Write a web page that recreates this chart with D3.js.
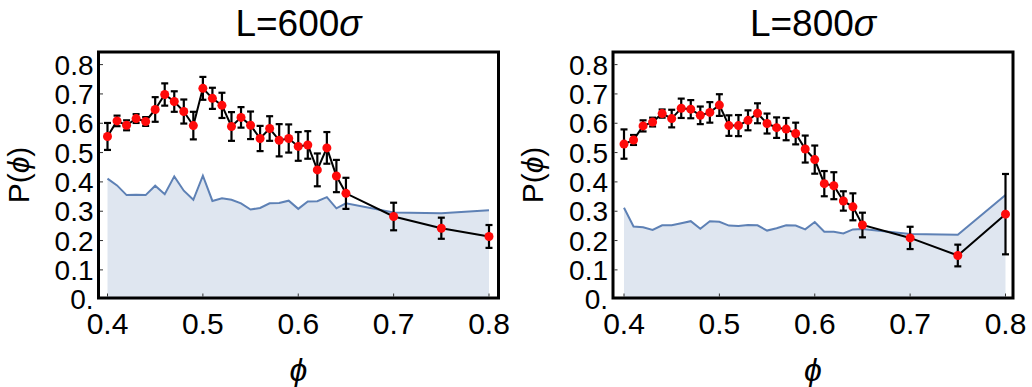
<!DOCTYPE html>
<html>
<head>
<meta charset="utf-8">
<script src="https://cdn.jsdelivr.net/npm/d3@7"></script>
<style>
  body { margin: 0; background: #fff; }
  text { font-family: "Liberation Sans", Arial, sans-serif; fill: #000; }
</style>
</head>
<body>
<svg width="1032" height="387"></svg>
<script>

// packing fraction values (shared by both panels)
var phi = [0.40,0.41,0.42,0.43,0.44,0.45,0.46,0.47,0.48,0.49,0.50,0.51,0.52,0.53,0.54,0.55,0.56,0.57,0.58,0.59,0.60,0.61,0.62,0.63,0.64,0.65,0.70,0.75,0.80];

var p600 = [0.555,0.608,0.593,0.616,0.606,0.647,0.698,0.674,0.640,0.592,0.719,0.685,0.661,0.589,0.620,0.593,0.548,0.582,0.542,0.548,0.521,0.526,0.441,0.516,0.420,0.361,0.282,0.242,0.214];
var err600 = [0.046,0.018,0.017,0.015,0.015,0.042,0.038,0.035,0.041,0.047,0.039,0.036,0.043,0.049,0.035,0.047,0.043,0.042,0.055,0.048,0.049,0.047,0.056,0.054,0.055,0.053,0.047,0.036,0.039];
var bg600 = [0.411,0.388,0.355,0.356,0.355,0.387,0.358,0.419,0.370,0.339,0.421,0.335,0.344,0.339,0.327,0.306,0.311,0.327,0.328,0.336,0.308,0.333,0.334,0.348,0.310,0.327,0.296,0.293,0.303];

var p800 = [0.529,0.543,0.591,0.604,0.633,0.616,0.651,0.648,0.627,0.637,0.662,0.592,0.592,0.610,0.634,0.599,0.585,0.580,0.565,0.512,0.476,0.394,0.387,0.335,0.315,0.253,0.209,0.149,0.290];
var err800 = [0.050,0.017,0.019,0.015,0.014,0.030,0.033,0.031,0.030,0.035,0.037,0.035,0.036,0.034,0.034,0.034,0.035,0.038,0.037,0.046,0.048,0.043,0.046,0.033,0.046,0.042,0.038,0.037,0.137];
var bg800 = [0.312,0.248,0.245,0.236,0.252,0.252,0.259,0.266,0.240,0.266,0.264,0.251,0.250,0.253,0.252,0.234,0.242,0.252,0.251,0.238,0.263,0.230,0.230,0.224,0.238,0.239,0.222,0.220,0.355];

var xTicks = [0.4,0.5,0.6,0.7,0.8];
var xTickLabels = ['0.4','0.5','0.6','0.7','0.8'];
var yTicks = [0,0.1,0.2,0.3,0.4,0.5,0.6,0.7,0.8];
var yTickLabels = ['0.','0.1','0.2','0.3','0.4','0.5','0.6','0.7','0.8'];

var titles = ['600', '800'];

var svg = d3.select('svg');
var blue = 'rgb(94,129,181)';

render = (title, vals, errs, bg, frameX, x04) => {
	var xscale = d3.scaleLinear().domain([0.4,0.8]).range([x04, x04+381.5]);
	var yscale = d3.scaleLinear().domain([0,0.8]).range([299.2, 64.6]);
	var frameY = 52, frameW = 400, frameH = 246;

	var data = phi.map((d,i) => ({x:d, p:vals[i], e:errs[i], b:bg[i]}));
	var g = svg.append('g');

	// shaded background
	g.append('path').datum(data)
		.attr('d', d3.area().x(d => xscale(d.x)).y0(yscale(0)).y1(d => yscale(d.b)))
		.attr('fill', blue).attr('fill-opacity', 0.2);
	g.append('path').datum(data)
		.attr('d', d3.line().x(d => xscale(d.x)).y(d => yscale(d.b)))
		.attr('fill', 'none').attr('stroke', blue).attr('stroke-width', 2);

	// black connecting line
	g.append('path').datum(data)
		.attr('d', d3.line().x(d => xscale(d.x)).y(d => yscale(d.p)))
		.attr('fill', 'none').attr('stroke', '#000').attr('stroke-width', 2);

	// error bars
	var eb = g.append('g').attr('stroke', '#000').attr('stroke-width', 2.2);
	eb.selectAll('.v').data(data).enter().append('line')
		.attr('x1', d => xscale(d.x)).attr('x2', d => xscale(d.x))
		.attr('y1', d => yscale(d.p - d.e)).attr('y2', d => yscale(d.p + d.e));
	eb.selectAll('.t').data(data).enter().append('line')
		.attr('x1', d => xscale(d.x)-3.5).attr('x2', d => xscale(d.x)+3.5)
		.attr('y1', d => yscale(d.p + d.e)).attr('y2', d => yscale(d.p + d.e));
	eb.selectAll('.b').data(data).enter().append('line')
		.attr('x1', d => xscale(d.x)-3.5).attr('x2', d => xscale(d.x)+3.5)
		.attr('y1', d => yscale(d.p - d.e)).attr('y2', d => yscale(d.p - d.e));

	g.selectAll('circle').data(data).enter().append('circle')
		.attr('cx', d => xscale(d.x)).attr('cy', d => yscale(d.p))
		.attr('r', 4.5).attr('fill', 'rgb(255,10,10)');

	// small inner ticks
	g.selectAll('.xt').data(xTicks).enter().append('line')
		.attr('x1', d => xscale(d)).attr('x2', d => xscale(d))
		.attr('y1', frameY+frameH-1.5).attr('y2', frameY+frameH-4.5)
		.attr('stroke', '#333').attr('stroke-width', 1);
	g.selectAll('.yt').data(yTicks.slice(1)).enter().append('line')
		.attr('x1', frameX+1.5).attr('x2', frameX+4.5)
		.attr('y1', d => yscale(d)).attr('y2', d => yscale(d))
		.attr('stroke', '#333').attr('stroke-width', 1);

	// frame
	g.append('rect')
		.attr('x', frameX).attr('y', frameY)
		.attr('width', frameW).attr('height', frameH)
		.attr('fill', 'none').attr('stroke', '#000').attr('stroke-width', 3);

	// tick labels
	g.selectAll('.xl').data(xTicks).enter().append('text')
		.attr('x', d => xscale(d)).attr('y', 334)
		.attr('text-anchor', 'middle').style('font-size', '30px')
		.text((d,i) => xTickLabels[i]);
	g.selectAll('.yl').data(yTicks).enter().append('text')
		.attr('x', frameX-5).attr('y', d => yscale(d) + 10)
		.attr('text-anchor', 'end').style('font-size', '28px')
		.text((d,i) => yTickLabels[i]);

	// title
	var t = g.append('text')
		.attr('x', frameX + frameW/2).attr('y', 36)
		.attr('text-anchor', 'middle').style('font-size', '37px');
	t.append('tspan').text('L=' + title);
	t.append('tspan').style('font-style', 'italic').text('σ');

	// axis labels
	g.append('text')
		.attr('x', frameX + frameW/2).attr('y', 381)
		.attr('text-anchor', 'middle').style('font-size', '32px').style('font-style', 'italic')
		.text('ϕ');
	var yl = g.append('text')
		.attr('transform', `translate(${frameX-70},175) rotate(-90)`)
		.attr('text-anchor', 'middle').style('font-size', '30px');
	yl.append('tspan').text('P(');
	yl.append('tspan').style('font-style', 'italic').text('ϕ');
	yl.append('tspan').text(')');
};

render(titles[0], p600, err600, bg600, 98.5, 107.5);
render(titles[1], p800, err800, bg800, 613, 624);

</script>
</body>
</html>
